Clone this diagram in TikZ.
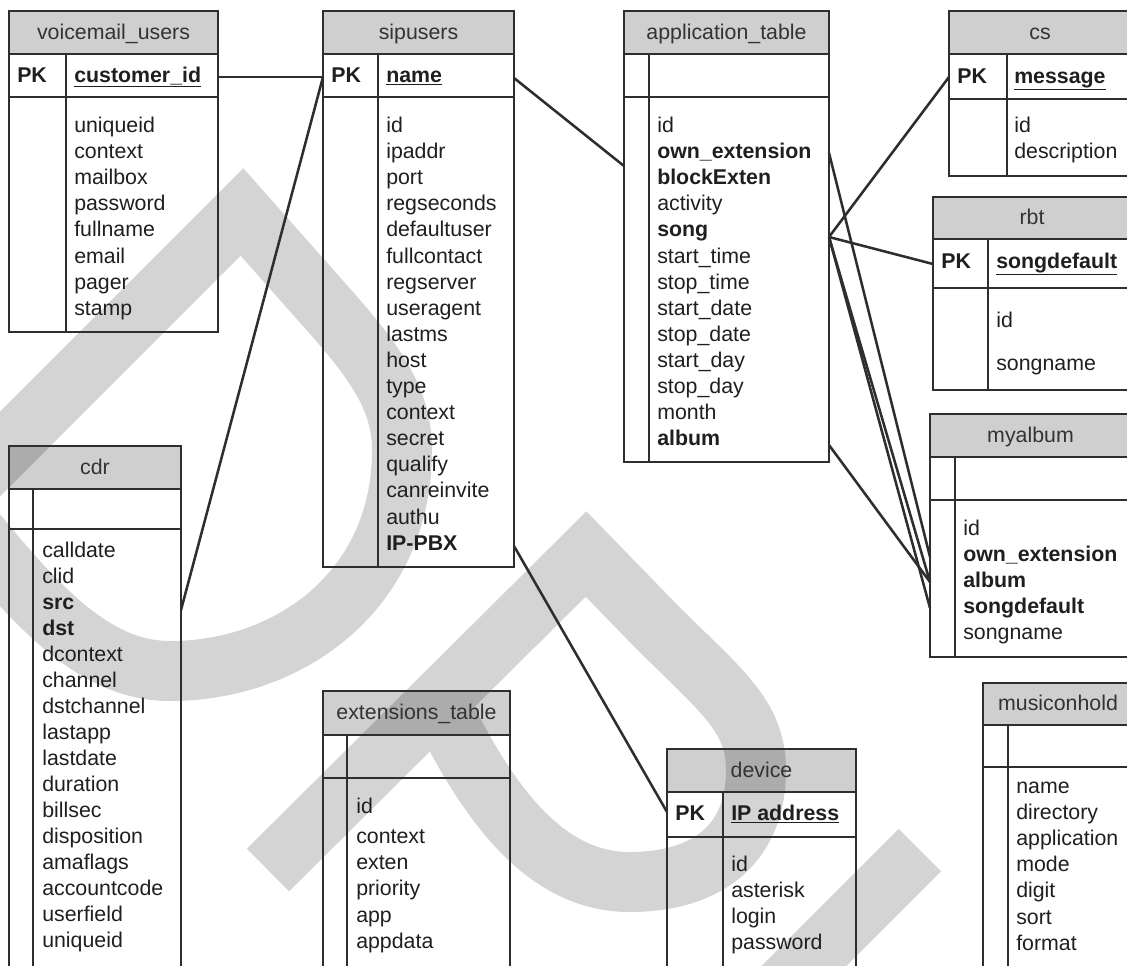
\documentclass[tikz,border=0pt]{standalone}
\usepackage{fontspec}
\setmainfont{Liberation Sans}
\newcommand\tabfont{\fontsize{16}{19.6}\selectfont}
% one entity box: name, left, divider, right, top, header bottom, key bottom, bottom
\newcommand\ertable[8]{%
  \path[hdr] (#2,#5) rectangle (#4,#6);
  \draw[frame] (#2,#5) rectangle (#4,#8);
  \draw[frame] (#2,#6) -- (#4,#6) (#2,#7) -- (#4,#7) (#3,#6) -- (#3,#8);
  \coordinate (#1-nw) at (#2,#5);
}
% a column of attribute names: prefix, x, first baseline, line step, list
\newcommand\attrlist[5]{%
  \foreach \t [count=\i] in {#5} {\node[attr] (#1-\i) at (#2,{#3+(\i-1)*#4}) {\t};}%
}
\begin{document}
\begin{tikzpicture}[x=0.75pt,y=-0.75pt,
  frame/.style={draw=black!82,line width=1.5pt},
  hdr/.style={fill=black,fill opacity=0.19},
  wmark/.style={draw=black,draw opacity=0.17,line width=45pt},
  conn/.style={draw=black!82,line width=1.9pt},
  title/.style={anchor=base,inner sep=0pt,text=black!80,font=\tabfont},
  attr/.style={anchor=base west,inner sep=0pt,text=black!88,font=\tabfont},
  keyattr/.style={attr,font=\tabfont\bfseries},
]
\useasboundingbox (0,0) rectangle (1127,965);
\fill[white] (0,0) rectangle (1127,965);
\clip (0,0) rectangle (1127,965);

% background marks
\draw[wmark] (-80,534) -- (242,212) -- (320,300)
  .. controls (370,356) and (402,395) .. (402,450)
  .. controls (402,590) and (290,671) .. (170,671)
  .. controls (90,671) and (30,600) .. (-50,500);
\draw[wmark] (268,870) -- (586,554) -- (655,625)
  .. controls (720,690) and (756,715) .. (756,770)
  .. controls (756,850) and (700,882) .. (630,882)
  .. controls (560,882) and (500,830) .. (440,705);
\draw[wmark] (920,850) -- (760,1010);

% entity boxes
\ertable{vmu}{9}{66}{218}{11}{54}{97}{332}
\ertable{sip}{323}{378}{514}{11}{54}{97}{567}
\ertable{app}{624}{649}{829}{11}{54}{97}{462}
\ertable{cs}{949}{1007}{1131}{11}{54}{99}{176}
\ertable{rbt}{933}{988}{1131}{197}{239}{288}{390}
\ertable{mya}{930}{955}{1131}{414}{457}{500}{657}
\ertable{moh}{983}{1008}{1133}{683}{725}{767}{990}
\ertable{dev}{667}{723}{856}{749}{792}{837}{990}
\ertable{cdr}{9}{33}{181}{446}{489}{529}{990}
\ertable{ext}{323}{347}{510}{691}{735}{778}{990}

% titles
\node[title] (vmu-title) at (113.5,39) {voicemail\_users};
\node[title] (sip-title) at (418.5,39) {sipusers};
\node[title] (app-title) at (726.5,39) {application\_table};
\node[title] (cs-title) at (1040,39) {cs};
\node[title] (rbt-title) at (1032,224.5) {rbt};
\node[title] (mya-title) at (1030.5,442) {myalbum};
\node[title] (moh-title) at (1058,710.5) {musiconhold};
\node[title] (dev-title) at (761.5,777) {device};
\node[title] (cdr-title) at (95,474) {cdr};
\node[title] (ext-title) at (416.5,719.5) {extensions\_table};

% primary keys
\node[keyattr] (vmu-pk) at (17,82) {PK};
\node[keyattr] (vmu-key) at (74,82) {\underline{customer\_id}};
\node[keyattr] (sip-pk) at (331,82) {PK};
\node[keyattr] (sip-key) at (386,82) {\underline{name}};
\node[keyattr] (cs-pk) at (957,83) {PK};
\node[keyattr] (cs-key) at (1014,83) {\underline{message}};
\node[keyattr] (rbt-pk) at (941,268) {PK};
\node[keyattr] (rbt-key) at (996,268) {\underline{songdefault}};
\node[keyattr] (dev-pk) at (675,820) {PK};
\node[keyattr] (dev-key) at (731,820) {\underline{IP address}};

% attributes
\attrlist{vmu}{74}{132.5}{26.1}{uniqueid,context,mailbox,password,fullname,email,pager,stamp}
\attrlist{sip}{386}{132.5}{26.1}{id,ipaddr,port,regseconds,defaultuser,fullcontact,regserver,useragent,lastms,host,type,context,secret,qualify,canreinvite,authu,\textbf{IP-PBX}}
\attrlist{app}{657}{132.5}{26.1}{id,\textbf{own\_extension},\textbf{blockExten},activity,\textbf{song},start\_time,stop\_time,start\_date,stop\_date,start\_day,stop\_day,month,\textbf{album}}
\attrlist{cs}{1014}{132.5}{26.1}{id,description}
\attrlist{rbt}{996}{327.5}{43}{id,songname}
\attrlist{mya}{963}{535.5}{26.1}{id,\textbf{own\_extension},\textbf{album},\textbf{songdefault},songname}
\attrlist{moh}{1016}{793.5}{26.1}{name,directory,application,mode,digit,sort,format}
\attrlist{dev}{731}{871.5}{26.1}{id,asterisk,login,password}
\attrlist{cdr}{42}{557.5}{26.0}{calldate,clid,\textbf{src},\textbf{dst},dcontext,channel,dstchannel,lastapp,lastdate,duration,billsec,disposition,amaflags,accountcode,userfield,uniqueid}
\node[attr] (ext-id) at (356,813.5) {id};
\attrlist{ext}{356}{843.5}{26.2}{context,exten,priority,app,appdata}

% connector end points on the box edges
\coordinate (vmu-key-e) at (218,77);
\coordinate (sip-key-w) at (323,77);
\coordinate (sip-key-e) at (514,78);
\coordinate (sip-ipbx-e) at (514,546);
\coordinate (cdr-src-e) at (181,610);
\coordinate (app-key-w) at (624,166);
\coordinate (app-own-e) at (829,153);
\coordinate (app-song-e) at (829,237);
\coordinate (app-album-e) at (829,445);
\coordinate (cs-key-w) at (949,77);
\coordinate (rbt-key-w) at (933,264);
\coordinate (mya-own-w) at (930,557);
\coordinate (mya-album-w) at (930,582);
\coordinate (mya-sdef-w) at (930,608);
\coordinate (dev-key-w) at (667,812);

% relations
\draw[conn] (vmu-key-e) -- (sip-key-w);
\draw[conn] (cdr-src-e) -- (sip-key-w);
\draw[conn] (sip-key-e) -- (app-key-w);
\draw[conn] (sip-ipbx-e) -- (dev-key-w);
\draw[conn] (app-song-e) -- (cs-key-w);
\draw[conn] (app-song-e) -- (rbt-key-w);
\draw[conn] (app-own-e) -- (mya-own-w);
\draw[conn] (app-song-e) -- (mya-album-w);
\draw[conn] (app-song-e) -- (mya-sdef-w);
\draw[conn] (app-album-e) -- (mya-album-w);
\end{tikzpicture}
\end{document}
